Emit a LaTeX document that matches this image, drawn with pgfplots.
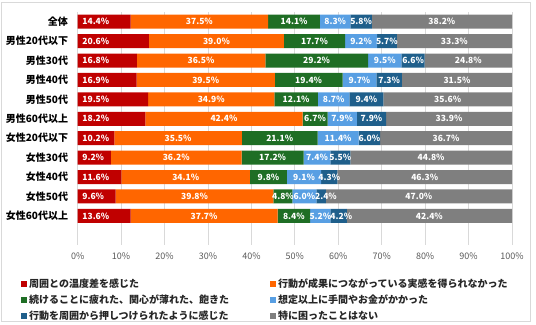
\documentclass[border=0pt]{standalone}
\usepackage{pgfplots}
\usepackage{pgfplotstable}
\pgfplotsset{compat=1.18}
\usepackage{fontspec}
\setmainfont{Noto Sans CJK JP}
\definecolor{cRed}{HTML}{C00000}
\definecolor{cOrange}{HTML}{FF6600}
\definecolor{cGreen}{HTML}{1F6E25}
\definecolor{cLBlue}{HTML}{589FE3}
\definecolor{cDBlue}{HTML}{1F5F8B}
\definecolor{cGray}{HTML}{7F7F7F}
\definecolor{cGrid}{HTML}{D9D9D9}
\definecolor{cTick}{HTML}{595959}
\definecolor{cText}{HTML}{262626}
% o = label nudge (in axis units) for the 5th series, to keep labels apart
\pgfplotstableread{
a b c d e f o
14.4 37.5 14.1 8.3 5.8 38.2 0
20.6 39.0 17.7 9.2 5.7 33.3 0
16.8 36.5 29.2 9.5 6.6 24.8 0
16.9 39.5 19.4 9.7 7.3 31.5 0
19.5 34.9 12.1 8.7 9.4 35.6 0
18.2 42.4 6.7 7.9 7.9 33.9 0
10.2 35.5 21.1 11.4 6.0 36.7 0
9.2 36.2 17.2 7.4 5.5 44.8 0
11.6 34.1 9.8 9.1 4.3 46.3 0
9.6 39.8 4.8 6.0 2.4 47.0 1.15
13.6 37.7 8.4 5.2 4.2 42.4 0.6
}\datatable
\pgfplotstablecreatecol[expr={\thisrow{a}+\thisrow{b}+\thisrow{c}+\thisrow{d}+\thisrow{e}+\thisrow{f}}]{s}\datatable
\pgfplotsset{
  common/.style={
    at={(77.7bp,313bp)}, anchor=north west,
    width=434.3bp, height=233bp, scale only axis,
    xmin=0, xmax=100, ymin=-0.5, ymax=11.5, y dir=reverse,
  },
  lbl/.style={draw=none, mark=none, nodes near coords, point meta=explicit,
    nodes near coords={\pgfmathprintnumber[fixed,fixed zerofill,precision=1,assume math mode=true]{\pgfplotspointmeta}\%},
    every node near coord/.style={anchor=center, text=white, inner sep=0pt,
      font=\bfseries\fontsize{8.5bp}{10bp}\selectfont}},
}
\begin{document}
\begin{tikzpicture}
\draw[cGrid, line width=0.8bp] (1bp,4bp) rectangle (530bp,323bp);
\begin{axis}[common,
  xbar stacked, bar width=14bp,
  axis line style={draw=none},
  major tick length=0pt,
  xmajorgrids, grid style={cGrid, line width=0.8bp},
  xtick={0,10,...,100},
  xticklabels={0\%,10\%,20\%,30\%,40\%,50\%,60\%,70\%,80\%,90\%,100\%},
  xticklabel style={font=\fontsize{9bp}{10bp}\selectfont, text=cTick, inner sep=0pt, yshift=-8bp},
  ytick={0,...,10},
  yticklabels={全体,男性20代以下,男性30代,男性40代,男性50代,男性60代以上,女性20代以下,女性30代,女性40代,女性50代,女性60代以上},
  yticklabel style={font=\bfseries\fontsize{10bp}{12bp}\selectfont, text=black, inner sep=0pt, anchor=east, xshift=-9.5bp},
  legend columns=2,
  legend cell align=left,
  legend image code/.code={\fill[#1] (0bp,-3bp) rectangle (6bp,3bp);},
  legend style={at={(-0.1306,-0.1438)}, anchor=north west, draw=none, fill=none,
    font=\bfseries\fontsize{10bp}{12bp}\selectfont, text=cText,
    inner sep=0pt, row sep=6bp, column sep=2bp,
    nodes={inner sep=0pt},
    /tikz/column 2/.style={column sep=41bp}},
]
\addplot[fill=cRed, draw=none] table[x expr=\thisrow{a}*100/\thisrow{s}, y expr=\coordindex]{\datatable};
\addlegendentry{周囲との温度差を感じた}
\addplot[fill=cOrange, draw=none] table[x expr=\thisrow{b}*100/\thisrow{s}, y expr=\coordindex]{\datatable};
\addlegendentry{行動が成果につながっている実感を得られなかった}
\addplot[fill=cGreen, draw=none] table[x expr=\thisrow{c}*100/\thisrow{s}, y expr=\coordindex]{\datatable};
\addlegendentry{続けることに疲れた、関心が薄れた、飽きた}
\addplot[fill=cLBlue, draw=none] table[x expr=\thisrow{d}*100/\thisrow{s}, y expr=\coordindex]{\datatable};
\addlegendentry{想定以上に手間やお金がかかった}
\addplot[fill=cDBlue, draw=none] table[x expr=\thisrow{e}*100/\thisrow{s}, y expr=\coordindex]{\datatable};
\addlegendentry{行動を周囲から押しつけられたように感じた}
\addplot[fill=cGray, draw=none] table[x expr=\thisrow{f}*100/\thisrow{s}, y expr=\coordindex]{\datatable};
\addlegendentry{特に困ったことはない}
\end{axis}
\begin{axis}[common, hide axis]
\addplot[lbl, every node near coord/.append style={anchor=west, xshift=4.5bp}] table[x expr=0, y expr=\coordindex, meta=a]{\datatable};
\addplot[lbl] table[x expr=(\thisrow{a}+\thisrow{b}/2)*100/\thisrow{s}, y expr=\coordindex, meta=b]{\datatable};
\addplot[lbl] table[x expr=(\thisrow{a}+\thisrow{b}+\thisrow{c}/2)*100/\thisrow{s}, y expr=\coordindex, meta=c]{\datatable};
\addplot[lbl] table[x expr=(\thisrow{a}+\thisrow{b}+\thisrow{c}+\thisrow{d}/2)*100/\thisrow{s}, y expr=\coordindex, meta=d]{\datatable};
\addplot[lbl] table[x expr=(\thisrow{a}+\thisrow{b}+\thisrow{c}+\thisrow{d}+\thisrow{e}/2)*100/\thisrow{s}+\thisrow{o}, y expr=\coordindex, meta=e]{\datatable};
\addplot[lbl] table[x expr=(\thisrow{a}+\thisrow{b}+\thisrow{c}+\thisrow{d}+\thisrow{e}+\thisrow{f}/2)*100/\thisrow{s}, y expr=\coordindex, meta=f]{\datatable};
\end{axis}
\pgfresetboundingbox
\path (0bp,0bp) rectangle (536bp,325bp);
\end{tikzpicture}
\end{document}
